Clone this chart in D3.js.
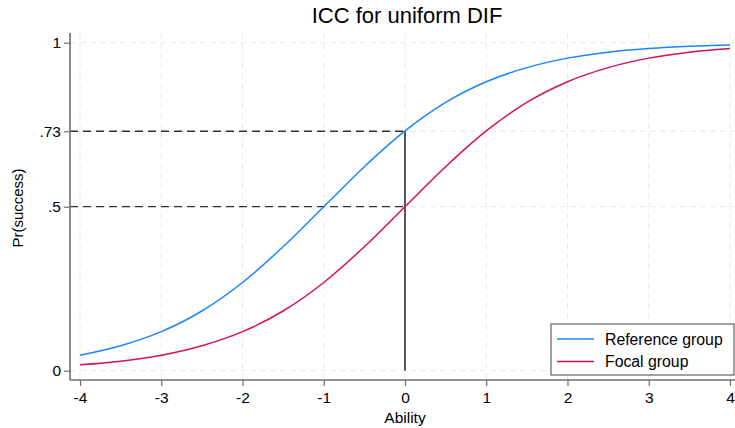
<!DOCTYPE html>
<html>
<head>
<meta charset="utf-8">
<script src="https://cdn.jsdelivr.net/npm/d3@7"></script>
<style>
  body { margin: 0; background: #fff; }
  text { font-family: "Liberation Sans", Arial, sans-serif; }
</style>
</head>
<body>
<div id="chart"></div>
<script>
// values
const ability = [-4, -3.5, -3, -2.5, -2, -1.5, -1, -0.5, 0, 0.5, 1, 1.5, 2, 2.5, 3, 3.5, 4];
const referenceGroup = [.047, .076, .119, .182, .269, .378, .5, .622, .731, .818, .881, .924, .953, .971, .982, .989, .993];
const focalGroup = [.018, .029, .047, .076, .119, .182, .269, .378, .5, .622, .731, .818, .881, .924, .953, .971, .982];

const xTicks = [-4, -3, -2, -1, 0, 1, 2, 3, 4];
const xTickLabels = ["-4", "-3", "-2", "-1", "0", "1", "2", "3", "4"];
const yTicks = [0, .5, .73, 1];
const yTickLabels = ["0", ".5", ".73", "1"];

const seriesNames = ["Reference group", "Focal group"];
const seriesColors = ["#1a85ff", "#d41159"];

const width = 735, height = 428;

const svg = d3.select("#chart").append("svg")
    .attr("width", width)
    .attr("height", height);

const x = d3.scaleLinear().domain([-4, 4]).range([80, 730]);
const y = d3.scaleLinear().domain([0, 1]).range([370.7, 42.7]);

const plotLeft = 70, plotRight = 735, plotTop = 33, plotBottom = 380;

// grid
svg.append("g").selectAll("line").data(xTicks).join("line")
    .attr("x1", d => x(d)).attr("x2", d => x(d))
    .attr("y1", plotTop).attr("y2", plotBottom)
    .attr("stroke", "#e8e8e8").attr("stroke-dasharray", "6,4");
svg.append("g").selectAll("line").data(yTicks).join("line")
    .attr("x1", plotLeft).attr("x2", plotRight)
    .attr("y1", d => y(d)).attr("y2", d => y(d))
    .attr("stroke", "#e8e8e8").attr("stroke-dasharray", "6,4");

// reference lines
svg.append("line")
    .attr("x1", plotLeft).attr("x2", x(0))
    .attr("y1", y(.73)).attr("y2", y(.73))
    .attr("stroke", "#333").attr("stroke-width", 1.3).attr("stroke-dasharray", "8,5");
svg.append("line")
    .attr("x1", plotLeft).attr("x2", x(0))
    .attr("y1", y(.5)).attr("y2", y(.5))
    .attr("stroke", "#333").attr("stroke-width", 1.3).attr("stroke-dasharray", "8,5");
svg.append("line")
    .attr("x1", x(0)).attr("x2", x(0))
    .attr("y1", y(.73)).attr("y2", y(0))
    .attr("stroke", "#000").attr("stroke-width", 1.3);

// curves
const line = d3.line()
    .x((d, i) => x(ability[i]))
    .y(d => y(d))
    .curve(d3.curveMonotoneX);

[referenceGroup, focalGroup].forEach((s, i) => {
  svg.append("path")
      .attr("d", line(s))
      .attr("fill", "none")
      .attr("stroke", seriesColors[i])
      .attr("stroke-width", 1.5);
});

// axes
const xAxis = svg.append("g")
    .attr("transform", `translate(0,${plotBottom})`)
    .call(d3.axisBottom(x).tickValues(xTicks).tickFormat((d, i) => xTickLabels[i])
      .tickSize(6).tickSizeOuter(0).tickPadding(6));
xAxis.select(".domain").attr("d", `M${plotLeft},0H${plotRight}`);

const yAxis = svg.append("g")
    .attr("transform", `translate(${plotLeft},0)`)
    .call(d3.axisLeft(y).tickValues(yTicks).tickFormat((d, i) => yTickLabels[i])
      .tickSize(6).tickSizeOuter(0).tickPadding(3));
yAxis.select(".domain").attr("d", `M0,${plotTop}V${plotBottom}`);

[xAxis, yAxis].forEach(a => {
  a.select(".domain").attr("stroke", "#6e6e6e").attr("stroke-width", 1.6);
  a.selectAll(".tick line").attr("stroke", "#6e6e6e").attr("stroke-width", 1.2);
  a.selectAll(".tick text").attr("fill", "#000").style("font-size", "15.5px")
      .style("font-family", "'Liberation Sans', Arial, sans-serif");
});

// title and axis labels
svg.append("text")
    .attr("x", 407).attr("y", 23)
    .attr("text-anchor", "middle")
    .style("font-size", "22px")
    .text("ICC for uniform DIF");

svg.append("text")
    .attr("x", x(0)).attr("y", 423)
    .attr("text-anchor", "middle")
    .style("font-size", "15.5px")
    .text("Ability");

svg.append("text")
    .attr("transform", `translate(23,208) rotate(-90)`)
    .attr("text-anchor", "middle")
    .style("font-size", "15px")
    .text("Pr(success)");

// legend
const legend = svg.append("g").attr("transform", "translate(551,324)");
legend.append("rect")
    .attr("width", 183).attr("height", 51)
    .attr("fill", "#fff").attr("stroke", "#444").attr("stroke-width", 1);
seriesNames.forEach((name, i) => {
  const g = legend.append("g").attr("transform", `translate(0,${15 + i * 22.5})`);
  g.append("line")
      .attr("x1", 6).attr("x2", 43)
      .attr("stroke", seriesColors[i]).attr("stroke-width", 1.5);
  g.append("text")
      .attr("x", 54).attr("dy", "0.35em")
      .style("font-size", "15.8px")
      .text(name);
});
</script>
</body>
</html>
